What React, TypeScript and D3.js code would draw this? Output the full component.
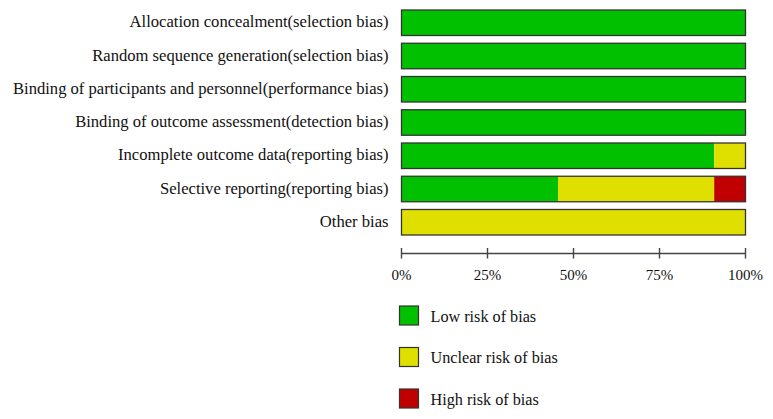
import React from "react";
import * as d3 from "d3";

const categories = [
  "Allocation concealment(selection bias)",
  "Random sequence generation(selection bias)",
  "Binding of participants and personnel(performance bias)",
  "Binding of outcome assessment(detection bias)",
  "Incomplete outcome data(reporting bias)",
  "Selective reporting(reporting bias)",
  "Other bias",
];
const lowRisk = [100, 100, 100, 100, 90.9, 45.5, 0];
const unclearRisk = [0, 0, 0, 0, 9.1, 45.4, 100];
const highRisk = [0, 0, 0, 0, 0, 9.1, 0];
const seriesNames = ["Low risk of bias", "Unclear risk of bias", "High risk of bias"];
const seriesColors = ["#00C000", "#E0E000", "#C00000"];
const tickValues = [0, 25, 50, 75, 100];

const FONT = "'Liberation Serif', 'Times New Roman', serif";

export default function App() {
  const W = 773, H = 419;
  const x = d3.scaleLinear().domain([0, 100]).range([401.5, 745.5]);
  const y = d3
    .scaleBand<string>()
    .domain(categories)
    .range([10, 235])
    .paddingInner(0.233)
    .paddingOuter(0);
  const series = [lowRisk, unclearRisk, highRisk];
  const rows = categories.map((c, i) => {
    let acc = 0;
    return series.map((s, k) => {
      const start = acc;
      acc += s[i];
      return { cat: c, k, start, end: acc };
    });
  });
  const axisY = 253.5;
  const legendY = d3.scalePoint<string>().domain(seriesNames).range([315.5, 398.5]);

  return (
    <svg
      width={W}
      height={H}
      style={{ position: "absolute", left: 0, top: 0, background: "#fff" }}
      fontFamily={FONT}
    >
      {rows.map((segs, i) => (
        <g key={i}>
          {segs
            .filter((s) => s.end - s.start > 0)
            .map((s) => (
              <rect
                key={s.k}
                x={x(s.start)}
                y={y(s.cat)}
                width={x(s.end) - x(s.start)}
                height={y.bandwidth()}
                fill={seriesColors[s.k]}
              />
            ))}
          <rect
            x={x(0)}
            y={y(categories[i])}
            width={x(100) - x(0)}
            height={y.bandwidth()}
            fill="none"
            stroke="#333"
            strokeWidth={1.3}
          />
          <text
            x={388.5}
            y={(y(categories[i]) as number) + y.bandwidth() / 2}
            dy="0.28em"
            textAnchor="end"
            fontSize={16.6}
            fill="#111"
          >
            {categories[i]}
          </text>
        </g>
      ))}
      <line x1={x(0)} x2={x(100)} y1={axisY} y2={axisY} stroke="#444" strokeWidth={1.4} />
      {tickValues.map((t) => (
        <g key={t}>
          <line x1={x(t)} x2={x(t)} y1={axisY - 5.5} y2={axisY + 5} stroke="#444" strokeWidth={1.4} />
          <text x={x(t)} y={280} textAnchor="middle" fontSize={15} fill="#111">
            {t + "%"}
          </text>
        </g>
      ))}
      {seriesNames.map((n, k) => (
        <g key={n}>
          <rect
            x={399.5}
            y={(legendY(n) as number) - 9.5}
            width={19}
            height={19}
            fill={seriesColors[k]}
            stroke="#333"
            strokeWidth={1.2}
          />
          <text x={430.5} y={legendY(n)} dy="0.38em" fontSize={16.2} fill="#111">
            {n}
          </text>
        </g>
      ))}
    </svg>
  );
}
